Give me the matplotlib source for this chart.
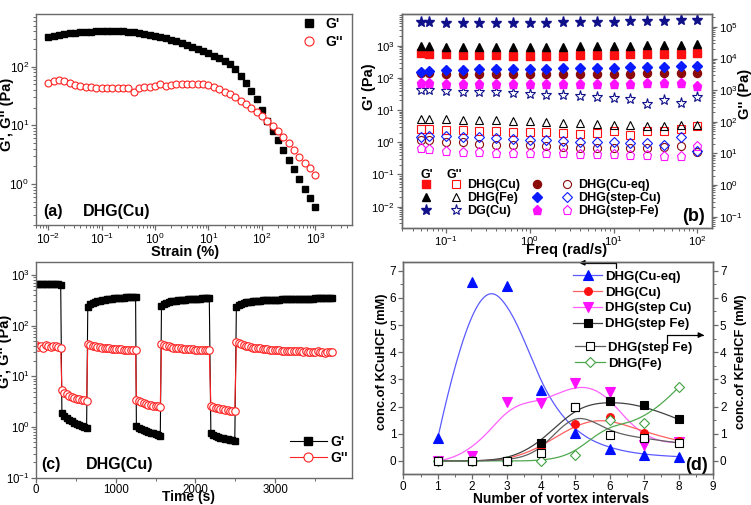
import numpy as np
import matplotlib
matplotlib.use('Agg')
import matplotlib.pyplot as plt
from matplotlib.lines import Line2D
from matplotlib.legend_handler import HandlerTuple
from matplotlib.ticker import LogLocator, NullFormatter, MultipleLocator, FixedLocator

plt.rcParams['font.family'] = ['Liberation Sans', 'DejaVu Sans']
plt.rcParams['mathtext.fontset'] = 'custom'
plt.rcParams['mathtext.rm'] = 'Liberation Sans'
plt.rcParams['mathtext.it'] = 'Liberation Sans:italic'
plt.rcParams['mathtext.bf'] = 'Liberation Sans:bold'

# ---------------- (a) strain sweep ----------------
strain = [0.01, 0.0126, 0.0158, 0.02, 0.0251, 0.0316, 0.0398, 0.0501, 0.0631, 0.0794,
          0.1, 0.126, 0.158, 0.2, 0.251, 0.316, 0.398, 0.501, 0.631, 0.794,
          1, 1.26, 1.58, 2, 2.51, 3.16, 3.98, 5.01, 6.31, 7.94,
          10, 12.6, 15.8, 20, 25.1, 31.6, 39.8, 50.1, 63.1, 79.4,
          100, 126, 158, 200, 251, 316, 398, 501, 631, 794, 1000]
gp_a = [315, 330, 345, 360, 372, 382, 390, 395, 398, 400,
        402, 403, 404, 404, 404, 398, 392, 382, 367, 352,
        337, 322, 305, 288, 271, 254, 236, 219, 202, 185,
        169, 155, 141, 126, 111, 90, 70, 52, 38.5, 27.7,
        18.5, 11.9, 8.0, 5.55, 3.75, 2.56, 1.78, 1.23, 0.83, 0.58, 0.40]
gpp_a = [52, 58, 60, 58, 53, 49, 46, 45, 45, 44,
         43, 43, 43, 43, 44, 43, 37, 43, 45, 45,
         47, 51, 47, 48, 50, 50, 51, 51, 51, 50.7,
         49, 45.7, 41, 37.5, 33.8, 30, 26.3, 23.1, 20, 17.1,
         14.4, 12, 9.9, 8.1, 6.4, 4.94, 3.8, 2.92, 2.31, 1.85, 1.42]

# ---------------- (b) frequency sweep ----------------
freq = [0.05, 0.0631, 0.1, 0.158, 0.251, 0.398, 0.631, 1.0, 1.58, 2.51,
        3.98, 6.31, 10, 15.8, 25.1, 39.8, 63.1, 100]
b_labels = ['DHG(Cu)', 'DHG(Fe)', 'DG(Cu)', 'DHG(Cu-eq)', 'DHG(step-Cu)', 'DHG(step-Fe)']
b_gp = {
    'DHG(Cu)': [580, 570, 540, 530, 520, 510, 500, 500, 500, 500, 510, 520, 530, 540, 550, 560, 570, 620],
    'DHG(Fe)': [1000, 1000, 950, 950, 930, 930, 920, 930, 940, 950, 960, 980, 1000, 1020, 1040, 1060, 1100, 1150],
    'DG(Cu)': [5500, 5500, 5200, 5200, 5100, 5100, 5100, 5200, 5300, 5400, 5500, 5600, 5700, 5800, 5900, 6000, 6200, 6500],
    'DHG(Cu-eq)': [140, 140, 135, 130, 130, 130, 130, 130, 130, 130, 130, 132, 135, 135, 138, 140, 140, 145],
    'DHG(step-Cu)': [155, 165, 175, 180, 185, 190, 190, 195, 195, 200, 200, 205, 210, 215, 220, 225, 230, 230],
    'DHG(step-Fe)': [70, 70, 67, 66, 66, 65, 65, 65, 65, 65, 65, 66, 66, 67, 68, 68, 72, 56],
}
b_gpp = {
    'DHG(Cu)': [2.6, 2.6, 2.5, 2.4, 2.3, 2.2, 2.1, 2.1, 2.1, 2.0, 1.8, 2.0, 2.3, 1.75, 2.2, 2.3, 2.6, 3.2],
    'DHG(Fe)': [5.5, 5.5, 5.3, 5.1, 5.0, 4.9, 4.6, 4.5, 4.3, 4.1, 3.9, 3.7, 3.5, 3.4, 3.3, 3.3, 3.5, 3.4],
    'DG(Cu)': [42, 42, 40, 38, 37, 36, 34, 32, 30, 29, 27, 25, 24, 22, 16, 21, 17, 26],
    'DHG(Cu-eq)': [1.2, 1.2, 1.05, 1.0, 0.9, 0.85, 0.8, 0.8, 0.75, 0.7, 0.65, 0.65, 0.65, 0.65, 0.65, 0.7, 0.75, 0.5],
    'DHG(step-Cu)': [1.5, 1.6, 1.6, 1.5, 1.45, 1.35, 1.25, 1.2, 1.15, 1.1, 1.05, 1.0, 1.0, 0.95, 0.95, 0.85, 1.45, 0.55],
    'DHG(step-Fe)': [0.65, 0.6, 0.55, 0.5, 0.5, 0.47, 0.45, 0.45, 0.47, 0.45, 0.42, 0.42, 0.42, 0.4, 0.4, 0.38, 0.38, 0.78],
}
b_style = {
    'DHG(Cu)': ('s', '#ff1010', 5.2),
    'DHG(Fe)': ('^', '#000000', 6.2),
    'DG(Cu)': ('*', '#10108a', 8.0),
    'DHG(Cu-eq)': ('o', '#8b0a0a', 5.8),
    'DHG(step-Cu)': ('D', '#0a1aff', 4.6),
    'DHG(step-Fe)': ('p', '#ff10ff', 6.6),
}

# ---------------- (c) step strain ----------------
time_c = [0, 31, 62, 93, 124, 155, 186, 217, 248, 279, 310,
          325, 356, 387, 418, 449, 480, 511, 542, 573, 604, 635,
          650, 680, 710, 740, 770, 800, 830, 860, 890, 920, 950, 980, 1010, 1040, 1070, 1100, 1130, 1160, 1190, 1220, 1250,
          1260, 1290, 1320, 1350, 1380, 1410, 1440, 1470, 1500, 1530, 1560,
          1575, 1605, 1635, 1665, 1695, 1725, 1755, 1785, 1815, 1845, 1875, 1905, 1935, 1965, 1995, 2025, 2055, 2085, 2115, 2145, 2175,
          2195, 2225, 2255, 2285, 2315, 2345, 2375, 2405, 2435, 2465, 2495,
          2515, 2545, 2575, 2605, 2635, 2665, 2695, 2725, 2755, 2785, 2815, 2845, 2875, 2905, 2935, 2965, 2995, 3025, 3055, 3085,
          3115, 3145, 3175, 3205, 3235, 3265, 3295, 3325, 3355, 3385, 3415, 3445, 3475, 3505, 3535, 3565, 3595, 3625, 3655, 3685, 3715]
gp_c = [660, 655, 650, 650, 655, 650, 650, 655, 650, 650, 648,
        1.9, 1.65, 1.5, 1.4, 1.3, 1.22, 1.15, 1.1, 1.05, 1.0, 0.96,
        238, 266, 284, 296, 305, 313, 320, 326, 331, 336, 340, 344, 348, 351, 354, 357, 360, 363, 366, 369, 372,
        1.05, 0.95, 0.9, 0.86, 0.82, 0.79, 0.77, 0.75, 0.72, 0.7, 0.68,
        242, 268, 283, 293, 301, 307, 312, 317, 321, 325, 328, 331, 334, 337, 339, 341, 343, 345, 347, 349, 352,
        0.75, 0.70, 0.67, 0.64, 0.62, 0.60, 0.58, 0.57, 0.56, 0.55, 0.54,
        235, 258, 272, 281, 288, 294, 299, 303, 306, 309, 312, 315, 317, 319, 321, 323, 325, 326, 328, 329,
        331, 332, 333, 334, 335, 336, 337, 338, 339, 340, 341, 342, 343, 344, 344, 345, 346, 347, 347, 348, 349]
gpp_c = [41, 38, 40, 37, 41, 39, 38, 40, 39, 38, 36,
         5.3, 4.7, 4.4, 4.15, 3.95, 3.8, 3.65, 3.55, 3.45, 3.35, 3.3,
         43, 41, 40, 39, 38, 37.5, 37, 36, 36, 35.5, 35, 35, 34.5, 34, 34, 33.5, 33.5, 33, 33, 33, 32.5,
         3.4, 3.2, 3.05, 2.95, 2.85, 2.78, 2.72, 2.65, 2.6, 2.55, 2.5,
         44, 42, 40.5, 39, 38, 37, 36.5, 36, 35.5, 35, 34.5, 34.5, 34, 34, 33.5, 33.5, 33, 33, 33, 33, 33,
         2.6, 2.5, 2.42, 2.36, 2.3, 2.25, 2.2, 2.15, 2.1, 2.07, 2.03,
         48, 45, 43, 41.5, 40, 39, 38, 37, 36.5, 36, 35.5, 35, 34.5, 34, 33.5, 33, 33, 32.5, 32.5, 32,
         32, 31.5, 31.5, 31, 31, 31, 31.5, 31, 30.5, 31, 30.5, 30.5, 30, 30, 31, 30, 30, 29.5, 30, 30, 30.5]

# ---------------- (d) concentrations ----------------
intervals = [1, 2, 3, 4, 5, 6, 7, 8]
d_cueq = [0.83, 6.59, 6.44, 2.61, 1.02, 0.43, 0.22, 0.16]
d_cu = [0, 0, 0, 0.5, 1.36, 1.63, 1.04, 0.75]
d_stepcu = [0, 0.18, 2.18, 2.12, 2.86, 2.55, 0.59, 0.7]
d_stepfe = [0, 0, 0, 0.67, 2.0, 2.22, 2.05, 1.53]
d_stepfe_r = [0, 0, 0, 0.28, 2.0, 0.96, 0.84, 0.66]
d_fe_r = [0, 0, 0, 0, 0.22, 1.5, 1.39, 2.71]

SPINE = '#6a6a6a'
TICKFS = 8.5


def style_axes(ax, right_ticks=False, fs=TICKFS, pad=1.5):
    for s in ax.spines.values():
        s.set_color(SPINE)
        s.set_linewidth(1.0)
    ax.tick_params(which='both', direction='out', color=SPINE, labelcolor='black',
                   top=False, right=right_ticks, labelsize=fs)
    ax.tick_params(which='major', length=3.5, width=0.9, pad=pad)
    ax.tick_params(which='minor', length=2, width=0.7)


def log_axis(axis):
    axis.set_major_locator(LogLocator(base=10, numticks=12))
    axis.set_minor_locator(LogLocator(base=10, subs=np.arange(2, 10), numticks=12))
    axis.set_minor_formatter(NullFormatter())


def bspline(xs, ys, n=300):
    P = np.column_stack([xs, ys]).astype(float)
    k = 3
    m = len(P)
    knots = np.concatenate([np.zeros(k), np.arange(m - k + 1), np.full(k, m - k)]).astype(float)
    u = np.linspace(0, m - k, n)
    u[-1] -= 1e-9
    N = np.zeros((len(knots) - 1, n))
    for i in range(len(knots) - 1):
        N[i] = (knots[i] <= u) & (u < knots[i + 1])
    for p in range(1, k + 1):
        Nn = np.zeros((len(knots) - 1 - p, n))
        for i in range(len(knots) - 1 - p):
            a = np.zeros(n)
            b = np.zeros(n)
            d1 = knots[i + p] - knots[i]
            d2 = knots[i + p + 1] - knots[i + 1]
            if d1 > 0:
                a = (u - knots[i]) / d1 * N[i]
            if d2 > 0:
                b = (knots[i + p + 1] - u) / d2 * N[i + 1]
            Nn[i] = a + b
        N = Nn
    C = N.T @ P
    return C[:, 0], C[:, 1]


fig = plt.figure(figsize=(7.51, 5.05), dpi=100)
W, H = 751.0, 505.0


def add_ax(l, r, t, b):
    return fig.add_axes([l / W, 1 - b / H, (r - l) / W, (b - t) / H])


def set_xlab(ax, text, x, y, fs):
    ax.set_xlabel(text, fontsize=fs, fontweight='bold')
    ax.xaxis.set_label_coords(x, y)
    ax.xaxis.label.set_va('center')


def set_ylab(ax, text, x, y, fs):
    ax.set_ylabel(text, fontsize=fs, fontweight='bold')
    ax.yaxis.set_label_coords(x, y)
    ax.yaxis.label.set_va('center')


# ================= (a) =================
axA = add_ax(36, 352, 14, 225)
axA.plot(strain, gp_a, ls='none', marker='s', ms=4.6, color='black', label="G'")
axA.plot(strain, gpp_a, ls='none', marker='o', ms=5.0, mfc='white', mec='#ff2020', mew=0.8, label="G''")
axA.set_xscale('log')
axA.set_yscale('log')
axA.set_xlim(10 ** -2.23, 10 ** 3.687)
axA.set_ylim(10 ** -0.699, 10 ** 2.899)
log_axis(axA.xaxis)
log_axis(axA.yaxis)
style_axes(axA)
set_xlab(axA, 'Strain (%)', (185 - 36) / 316, (225 - 252) / 211, 10.5)
set_ylab(axA, "G', G'' (Pa)", (7 - 36) / 316, 0.526, 10.5)
axA.legend(loc='upper left', bbox_to_anchor=(0.842, 0.985), frameon=False, borderpad=0,
           borderaxespad=0, handlelength=1.0, handletextpad=0.7, labelspacing=0.3,
           prop={'weight': 'bold', 'size': 10}, markerscale=1.3)
axA.text(0.022, 0.062, '(a)', transform=axA.transAxes, fontsize=11.5, fontweight='bold', va='center')
axA.text(0.149, 0.062, 'DHG(Cu)', transform=axA.transAxes, fontsize=11.5, fontweight='bold', va='center')

# ================= (b) =================
axB = add_ax(401.7, 711.7, 14, 227.7)
for lab in b_labels:
    mk, col, ms = b_style[lab]
    axB.plot(freq, b_gp[lab], ls='none', marker=mk, ms=ms, color=col, mec=col)
    axB.plot(freq, b_gpp[lab], ls='none', marker=mk, ms=ms, mfc='none', mec=col, mew=0.8)
axB.set_xscale('log')
axB.set_yscale('log')
axB.set_xlim(10 ** -1.529, 10 ** 2.172)
axB.set_ylim(10 ** -2.655, 10 ** 3.99)
log_axis(axB.xaxis)
log_axis(axB.yaxis)
style_axes(axB, fs=8.2)
axB2 = axB.twinx()
axB2.set_yscale('log')
axB2.set_ylim(10 ** -1.35, 10 ** 5.41)
log_axis(axB2.yaxis)
style_axes(axB2, right_ticks=True, fs=8.2)
axB2.tick_params(left=False)
set_ylab(axB2, "G'' (Pa)", 1.108, 0.626, 10.5)
set_ylab(axB, "G' (Pa)", (369 - 401.7) / 310, 0.66, 10.5)
set_xlab(axB, 'Freq (rad/s)', 0.533, (227.7 - 250) / 213.7, 10.5)

handles_b = []
for lab in b_labels:
    mk, col, ms = b_style[lab]
    f = Line2D([], [], ls='none', marker=mk, ms=ms, color=col, mec=col)
    o = Line2D([], [], ls='none', marker=mk, ms=ms, mfc='none', mec=col, mew=0.8)
    handles_b.append((f, o))
axB.legend(handles_b, b_labels, ncol=2, handler_map={tuple: HandlerTuple(ndivide=None, pad=1.2)},
           loc='upper left', bbox_to_anchor=(0.0526, 0.228), frameon=False, borderpad=0,
           borderaxespad=0, handlelength=3.6, handletextpad=0.35, columnspacing=0.7,
           labelspacing=0.1, prop={'weight': 'bold', 'size': 9})
axB.text((426.7 - 401.7) / 310, (227.7 - 175) / 213.7, "G'", transform=axB.transAxes,
         fontsize=9, fontweight='bold', ha='center', va='center')
axB.text((454 - 401.7) / 310, (227.7 - 175) / 213.7, "G''", transform=axB.transAxes,
         fontsize=9, fontweight='bold', ha='center', va='center')
axB.text(0.978, 0.051, '(b)', transform=axB.transAxes, fontsize=13, fontweight='bold',
         ha='right', va='center')

# ================= (c) =================
axC = add_ax(36, 352.3, 262.3, 477.7)
axC.plot(time_c, gp_c, ls='-', lw=0.8, color='black', marker='s', ms=4.8, label="G'")
axC.plot(time_c, gpp_c, ls='-', lw=0.8, color='#ff2020', marker='o', ms=5.4, mfc='white',
         mec='#ff2020', mew=0.8, label="G''")
axC.set_yscale('log')
axC.set_xlim(0, 3970)
axC.set_ylim(0.1, 10 ** 3.25)
axC.xaxis.set_major_locator(MultipleLocator(1000))
axC.xaxis.set_minor_locator(MultipleLocator(500))
log_axis(axC.yaxis)
style_axes(axC, fs=8.3, pad=1.0)
set_xlab(axC, 'Time (s)', 0.482, (477.7 - 497.5) / 215.4, 10)
set_ylab(axC, "G', G'' (Pa)", -0.098, 0.588, 10.5)
axC.legend(loc='upper left', bbox_to_anchor=(0.803, 0.199), frameon=False, borderpad=0,
           borderaxespad=0, handlelength=2.64, handletextpad=0.24, labelspacing=0.13,
           prop={'weight': 'bold', 'size': 10}, markerscale=1.2)
axC.text(0.018, 0.059, '(c)', transform=axC.transAxes, fontsize=11.5, fontweight='bold', va='center')
axC.text(0.158, 0.059, 'DHG(Cu)', transform=axC.transAxes, fontsize=11.5, fontweight='bold', va='center')

# ================= (d) =================
axD = add_ax(403.3, 713, 261.7, 474)
d_series = [
    ('DHG(Cu-eq)', d_cueq, '^', '#0010ff', '#5a5aff', '#0010ff', 6.5),
    ('DHG(step Cu)', d_stepcu, 'v', '#ff10ff', '#ff60ff', '#ff10ff', 6.5),
    ('DHG(Cu)', d_cu, 'o', '#ff1010', '#ff6060', '#ff1010', 5.6),
    ('DHG(step Fe)', d_stepfe, 's', '#000000', '#404040', '#000000', 5.2),
    ('DHG(Fe)', d_fe_r, 'D', 'white', '#50a850', '#40a040', 4.6),
    ('DHG(step Fe) ', d_stepfe_r, 's', 'white', '#606060', '#000000', 5.2),
]
handles_d = {}
for lab, ys, mk, fc, lc, ec, ms in d_series:
    bx, by = bspline(intervals, ys)
    axD.plot(bx, by, color=lc, lw=0.9, zorder=2)
for lab, ys, mk, fc, lc, ec, ms in d_series:
    axD.plot(intervals, ys, ls='none', marker=mk, ms=ms, mfc=fc, mec=ec, mew=0.8, zorder=3)
    handles_d[lab] = Line2D([], [], color=lc, lw=0.9, marker=mk, ms=ms, mfc=fc, mec=ec, mew=0.8)
axD.set_xlim(0, 9)
axD.set_ylim(-0.48, 7.33)
axD.xaxis.set_major_locator(MultipleLocator(1))
axD.xaxis.set_minor_locator(MultipleLocator(0.5))
axD.yaxis.set_major_locator(FixedLocator([0, 1, 2, 3, 4, 5, 6, 7]))
axD.yaxis.set_minor_locator(MultipleLocator(0.5))
style_axes(axD)
axD2 = axD.twinx()
axD2.set_ylim(-0.48, 7.33)
axD2.yaxis.set_major_locator(FixedLocator([0, 1, 2, 3, 4, 5, 6, 7]))
axD2.yaxis.set_minor_locator(MultipleLocator(0.5))
style_axes(axD2, right_ticks=True)
axD2.tick_params(left=False)
set_xlab(axD, 'Number of vortex intervals', 0.508, -0.118, 10)
set_ylab(axD, 'conc.of KCuHCF (mM)', -0.07, 0.527, 9.3)
set_ylab(axD2, 'conc.of KFeHCF (mM)', 1.09, 0.53, 9.3)

leg1_labels = ['DHG(Cu-eq)', 'DHG(Cu)', 'DHG(step Cu)', 'DHG(step Fe)']
leg1 = axD.legend([handles_d[l] for l in leg1_labels], leg1_labels, loc='upper left',
                  bbox_to_anchor=(0.548, 0.958), frameon=False, borderpad=0, borderaxespad=0,
                  handlelength=2.2, handletextpad=0.23, labelspacing=0.27,
                  prop={'weight': 'bold', 'size': 9.5})
axD.add_artist(leg1)
axD.legend([handles_d['DHG(step Fe) '], handles_d['DHG(Fe)']], ['DHG(step Fe)', 'DHG(Fe)'],
           loc='upper left', bbox_to_anchor=(0.554, 0.625), frameon=False, borderpad=0,
           borderaxespad=0, handlelength=2.3, handletextpad=0.23, labelspacing=0.3,
           prop={'weight': 'bold', 'size': 9.5})
axD.annotate('', xy=(5.11, 7.29), xytext=(6.18, 7.10),
             arrowprops=dict(arrowstyle='-|>', color='black', lw=0.9, shrinkA=0, shrinkB=0,
                             mutation_scale=8, connectionstyle='angle,angleA=90,angleB=0,rad=0'),
             annotation_clip=False)
axD.annotate('', xy=(8.74, 4.63), xytext=(7.65, 4.35),
             arrowprops=dict(arrowstyle='-|>', color='black', lw=0.9, shrinkA=0, shrinkB=0,
                             mutation_scale=8, connectionstyle='angle,angleA=90,angleB=0,rad=0'),
             annotation_clip=False)
axD.text(0.984, 0.042, '(d)', transform=axD.transAxes, fontsize=13, fontweight='bold',
         ha='right', va='center')

fig.savefig('out.png', dpi=100)
